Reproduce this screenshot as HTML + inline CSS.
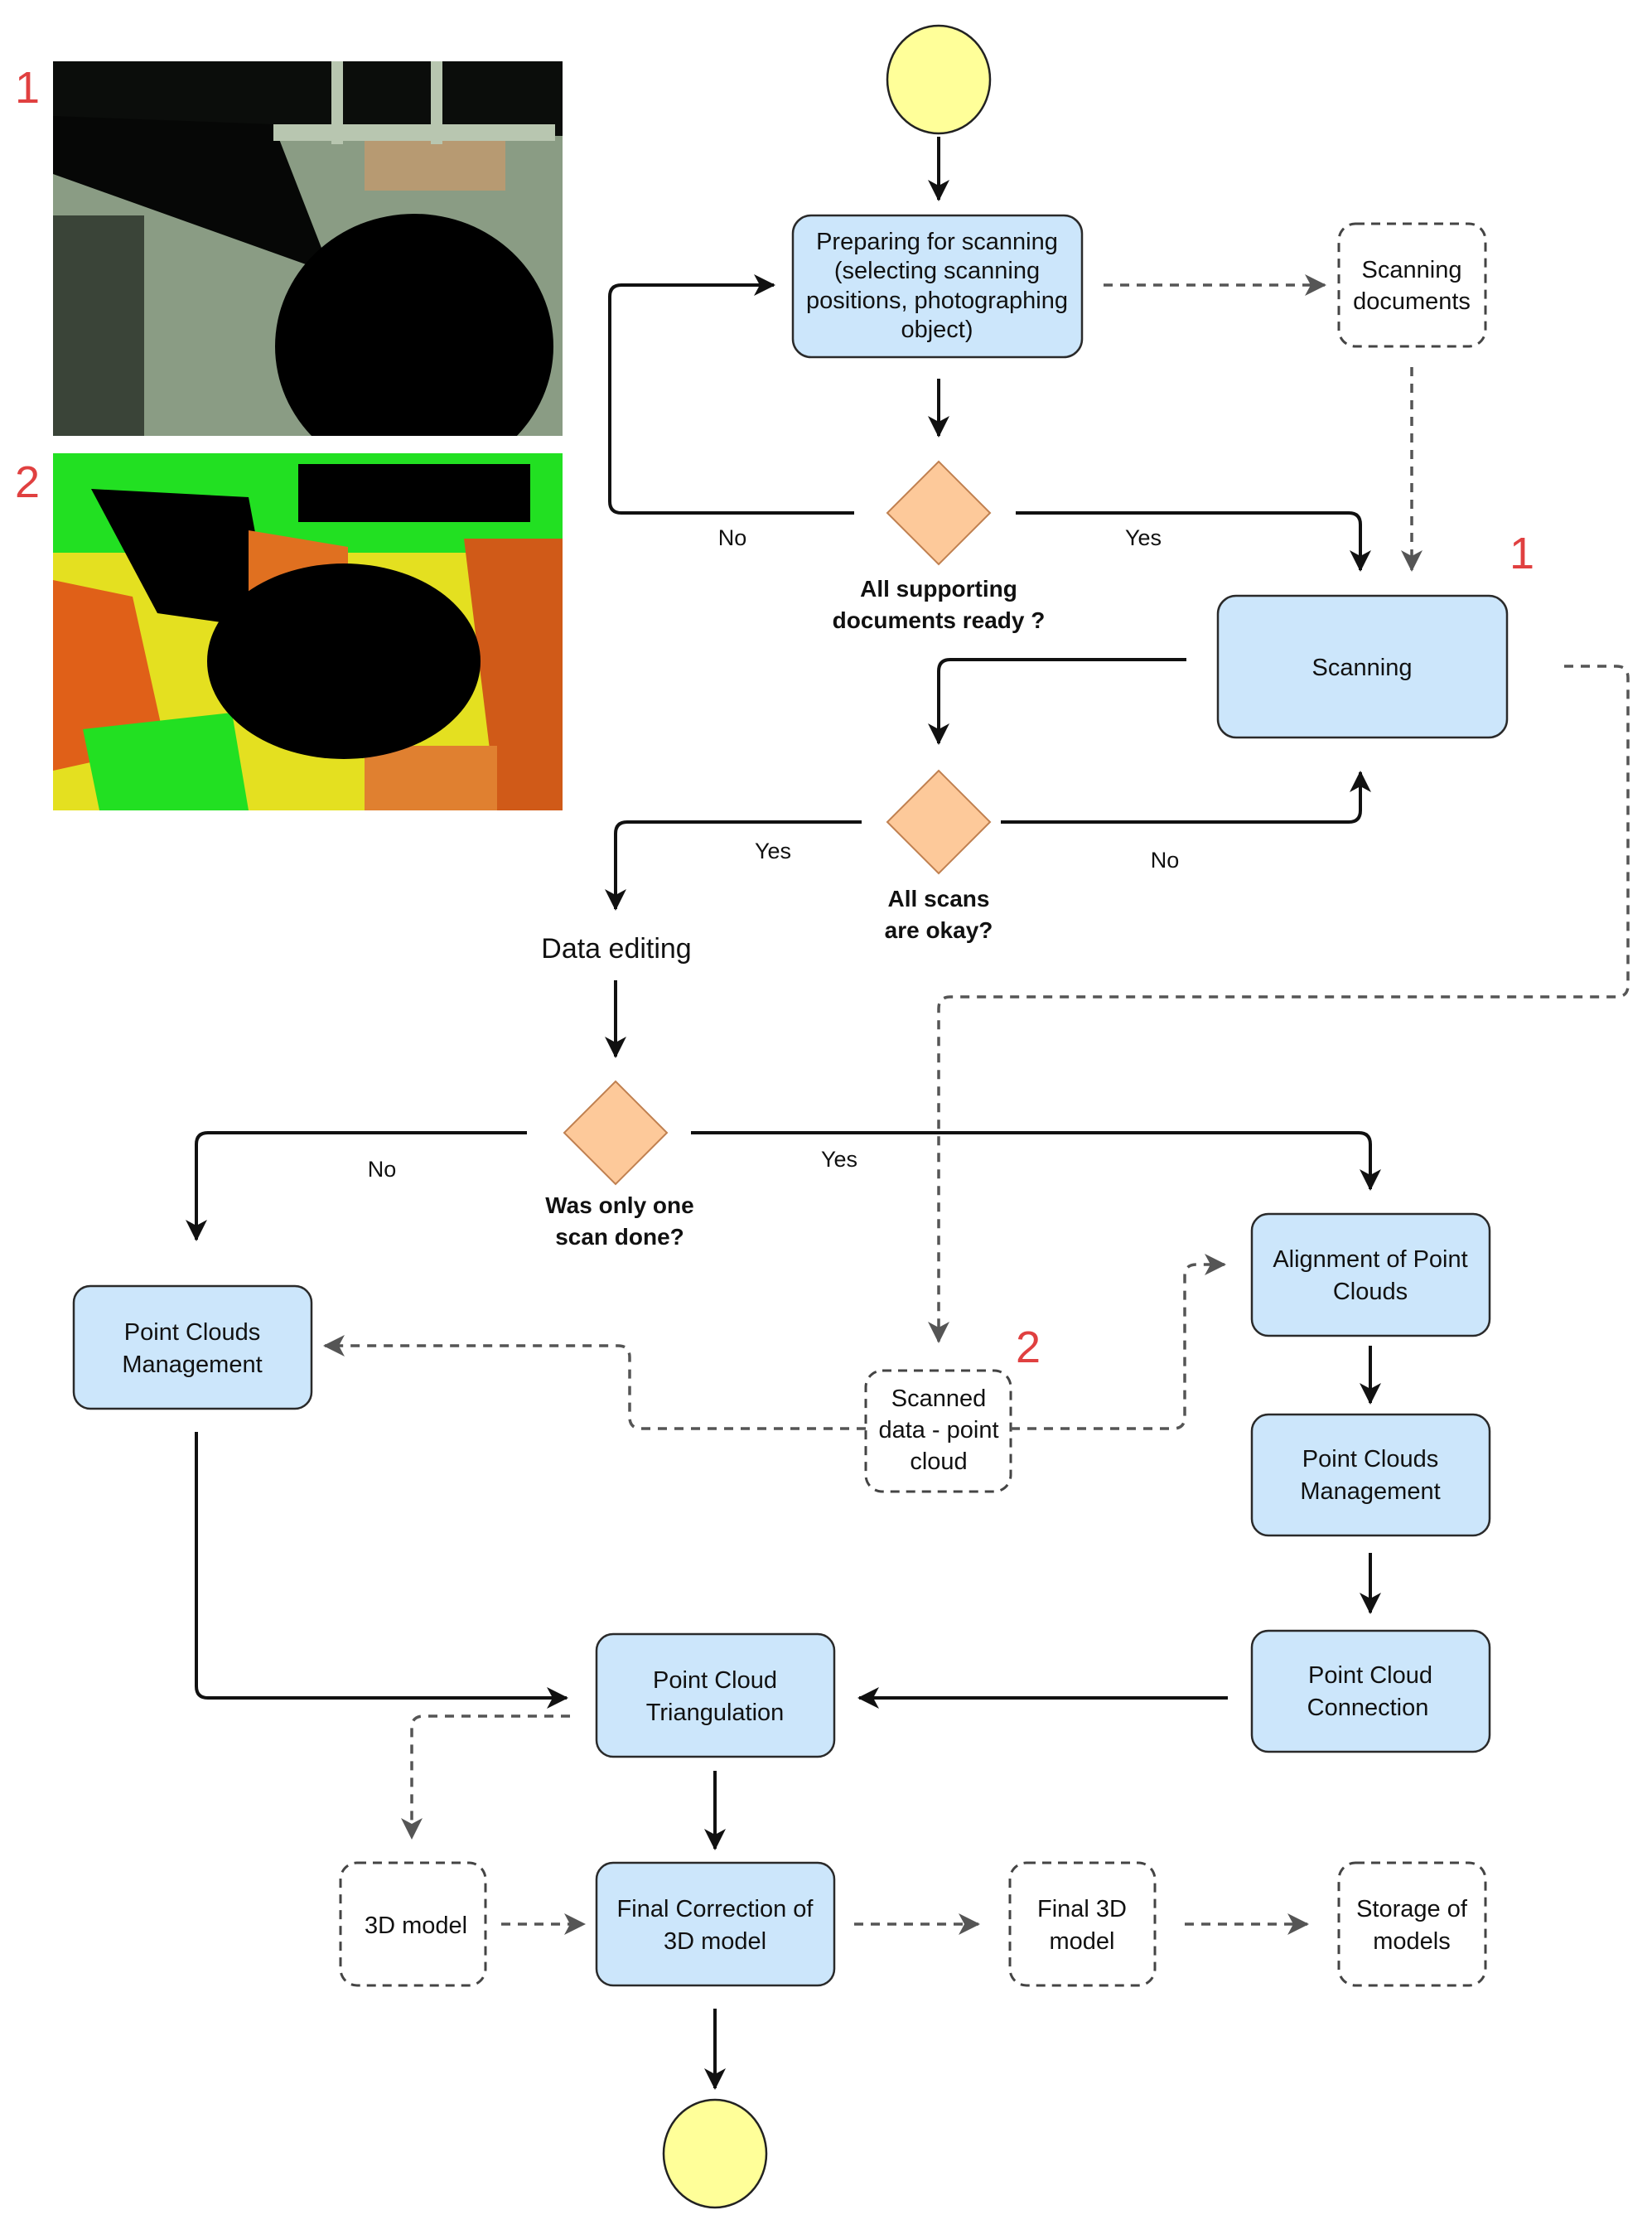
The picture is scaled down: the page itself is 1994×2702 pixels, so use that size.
<!DOCTYPE html>
<html><head><meta charset="utf-8"><style>
html,body{margin:0;padding:0;background:#fff;}
svg{display:block;}
text{font-family:"Liberation Sans",Arial,sans-serif;fill:#111;}
.bx{fill:#cce6fb;stroke:#2a2a2a;stroke-width:2.5;}
.db{fill:#fff;stroke:#444;stroke-width:3;stroke-dasharray:11 8;}
.ln{fill:none;stroke:#111;stroke-width:4;}
.dl{fill:none;stroke:#555;stroke-width:3.5;stroke-dasharray:11 9;}
.t{font-size:29px;text-anchor:middle;}
.b{font-size:28px;font-weight:bold;text-anchor:middle;}
.r{font-size:54px;fill:#e04040;}
</style></head><body>
<svg width="1994" height="2702" viewBox="0 0 1994 2702" xmlns="http://www.w3.org/2000/svg">
<defs>
<marker id="a" viewBox="0 0 10 10" refX="9" refY="5" markerWidth="6" markerHeight="6" markerUnits="userSpaceOnUse" orient="auto" style="overflow:visible"><path d="M0,0 L10,5 L0,10 L3,5 z" fill="#111" transform="scale(2.6) translate(-6,-5) translate(6,5)"/></marker>
<marker id="A" markerWidth="28" markerHeight="26" refX="24" refY="13" orient="auto" markerUnits="userSpaceOnUse"><path d="M0,0 L26,13 L0,26 L7,13 z" fill="#111"/></marker>
<marker id="D" markerWidth="28" markerHeight="26" refX="24" refY="13" orient="auto" markerUnits="userSpaceOnUse"><path d="M0,0 L26,13 L0,26 L7,13 z" fill="#555"/></marker>
<clipPath id="c1"><rect x="64" y="74" width="615" height="452"/></clipPath>
<clipPath id="c2"><rect x="64" y="547" width="615" height="431"/></clipPath>
</defs>

<!-- photo 1 -->
<g clip-path="url(#c1)">
<rect x="64" y="74" width="615" height="452" fill="#8a9c84"/>
<rect x="64" y="74" width="615" height="90" fill="#0b0d0b"/>
<polygon points="64,140 330,150 400,330 64,210" fill="#060706"/>
<rect x="64" y="260" width="110" height="266" fill="#3a4438"/>
<rect x="440" y="170" width="170" height="60" fill="#b79a72"/>
<rect x="330" y="150" width="340" height="20" fill="#b8c6b0"/>
<rect x="400" y="74" width="14" height="100" fill="#b8c6b0"/>
<rect x="520" y="74" width="14" height="100" fill="#b8c6b0"/>
<ellipse cx="500" cy="418" rx="168" ry="160" fill="#000"/>
</g>
<!-- photo 2 -->
<g clip-path="url(#c2)">
<rect x="64" y="547" width="615" height="431" fill="#e4e020"/>
<rect x="64" y="547" width="615" height="120" fill="#22e022"/>
<polygon points="110,590 300,600 330,760 190,740" fill="#000"/>
<rect x="360" y="560" width="280" height="70" fill="#000"/>
<polygon points="64,700 160,720 200,900 64,930" fill="#e06018"/>
<polygon points="100,880 280,860 300,978 120,978" fill="#22e022"/>
<polygon points="300,640 420,660 420,760 300,760" fill="#e07020"/>
<polygon points="560,650 679,650 679,978 600,978" fill="#d05a18"/>
<polygon points="440,900 600,900 600,978 440,978" fill="#e08030"/>
<ellipse cx="415" cy="798" rx="165" ry="118" fill="#000"/>
</g>
<text class="r" x="18" y="124">1</text>
<text class="r" x="18" y="600">2</text>

<!-- start circle -->
<ellipse cx="1133" cy="96" rx="62" ry="65" fill="#ffff99" stroke="#222" stroke-width="2.5"/>
<line class="ln" x1="1133" y1="165" x2="1133" y2="241" marker-end="url(#A)"/>

<rect class="bx" x="957" y="260" width="349" height="171" rx="22"/>
<text class="t" x="1131" y="301">Preparing for scanning</text>
<text class="t" x="1131" y="336">(selecting scanning</text>
<text class="t" x="1131" y="372">positions, photographing</text>
<text class="t" x="1131" y="407">object)</text>

<line class="dl" x1="1332" y1="344" x2="1599" y2="344" marker-end="url(#D)"/>
<rect class="db" x="1616" y="270" width="177" height="148" rx="20"/>
<text class="t" x="1704" y="335">Scanning</text>
<text class="t" x="1704" y="373">documents</text>
<line class="dl" x1="1704" y1="443" x2="1704" y2="688" marker-end="url(#D)"/>

<line class="ln" x1="1133" y1="457" x2="1133" y2="526" marker-end="url(#A)"/>
<polygon points="1133,557 1195,619 1133,681 1071,619" fill="#fdc99a" stroke="#c08050" stroke-width="2"/>
<path class="ln" d="M1031,619 H750 Q736,619 736,605 V358 Q736,344 750,344 H934" marker-end="url(#A)"/>
<path class="ln" d="M1226,619 H1628 Q1642,619 1642,633 V688" marker-end="url(#A)"/>
<text class="t" x="884" y="658" style="font-size:27px">No</text>
<text class="t" x="1380" y="658" style="font-size:27px">Yes</text>
<text class="b" x="1133" y="720">All supporting</text>
<text class="b" x="1133" y="758">documents ready ?</text>
<text class="r" x="1822" y="686">1</text>

<rect class="bx" x="1470" y="719" width="349" height="171" rx="22"/>
<text class="t" x="1644" y="815">Scanning</text>

<path class="ln" d="M1432,796 H1147 Q1133,796 1133,810 V897" marker-end="url(#A)"/>
<path class="dl" d="M1888,804 H1951 Q1965,804 1965,818 V1189 Q1965,1203 1951,1203 H1147 Q1133,1203 1133,1217 V1619" marker-end="url(#D)"/>

<polygon points="1133,930 1195,992 1133,1054 1071,992" fill="#fdc99a" stroke="#c08050" stroke-width="2"/>
<path class="ln" d="M1040,992 H757 Q743,992 743,1006 V1097" marker-end="url(#A)"/>
<path class="ln" d="M1208,992 H1628 Q1642,992 1642,978 V932" marker-end="url(#A)"/>
<text class="t" x="933" y="1036" style="font-size:27px">Yes</text>
<text class="t" x="1406" y="1047" style="font-size:27px">No</text>
<text class="b" x="1133" y="1094">All scans</text>
<text class="b" x="1133" y="1132">are okay?</text>
<text class="t" x="744" y="1156" style="font-size:34px">Data editing</text>
<line class="ln" x1="743" y1="1183" x2="743" y2="1275" marker-end="url(#A)"/>

<polygon points="743,1305 805,1367 743,1429 681,1367" fill="#fdc99a" stroke="#c08050" stroke-width="2"/>
<path class="ln" d="M636,1367 H251 Q237,1367 237,1381 V1496" marker-end="url(#A)"/>
<path class="ln" d="M834,1367 H1640 Q1654,1367 1654,1381 V1435" marker-end="url(#A)"/>
<text class="t" x="461" y="1420" style="font-size:27px">No</text>
<text class="t" x="1013" y="1408" style="font-size:27px">Yes</text>
<text class="b" x="748" y="1464">Was only one</text>
<text class="b" x="748" y="1502">scan done?</text>

<rect class="bx" x="89" y="1552" width="287" height="148" rx="20"/>
<text class="t" x="232" y="1617">Point Clouds</text>
<text class="t" x="232" y="1656">Management</text>

<path class="dl" d="M1045,1724 H774 Q760,1724 760,1710 V1638 Q760,1624 746,1624 H392" marker-end="url(#D)"/>
<rect class="db" x="1045" y="1654" width="175" height="146" rx="20"/>
<text class="t" x="1133" y="1697">Scanned</text>
<text class="t" x="1133" y="1735">data - point</text>
<text class="t" x="1133" y="1773">cloud</text>
<text class="r" x="1226" y="1644">2</text>
<path class="dl" d="M1220,1724 H1416 Q1430,1724 1430,1710 V1540 Q1430,1526 1444,1526 H1478" marker-end="url(#D)"/>

<rect class="bx" x="1511" y="1465" width="287" height="147" rx="20"/>
<text class="t" x="1654" y="1529">Alignment of Point</text>
<text class="t" x="1654" y="1568">Clouds</text>
<line class="ln" x1="1654" y1="1624" x2="1654" y2="1693" marker-end="url(#A)"/>
<rect class="bx" x="1511" y="1707" width="287" height="146" rx="20"/>
<text class="t" x="1654" y="1770">Point Clouds</text>
<text class="t" x="1654" y="1809">Management</text>
<line class="ln" x1="1654" y1="1874" x2="1654" y2="1946" marker-end="url(#A)"/>
<rect class="bx" x="1511" y="1968" width="287" height="146" rx="20"/>
<text class="t" x="1654" y="2031">Point Cloud</text>
<text class="t" x="1651" y="2070">Connection</text>

<line class="ln" x1="1482" y1="2049" x2="1037" y2="2049" marker-end="url(#A)"/>
<path class="ln" d="M237,1728 V2035 Q237,2049 251,2049 H684" marker-end="url(#A)"/>

<rect class="bx" x="720" y="1972" width="287" height="148" rx="20"/>
<text class="t" x="863" y="2037">Point Cloud</text>
<text class="t" x="863" y="2076">Triangulation</text>
<path class="dl" d="M688,2071 H511 Q497,2071 497,2085 V2218" marker-end="url(#D)"/>
<line class="ln" x1="863" y1="2137" x2="863" y2="2231" marker-end="url(#A)"/>

<rect class="db" x="411" y="2248" width="175" height="148" rx="20"/>
<text class="t" x="502" y="2333">3D model</text>
<line class="dl" x1="605" y1="2322" x2="705" y2="2322" marker-end="url(#D)"/>
<rect class="bx" x="720" y="2248" width="287" height="148" rx="20"/>
<text class="t" x="863" y="2313">Final Correction of</text>
<text class="t" x="863" y="2352">3D model</text>
<line class="dl" x1="1031" y1="2322" x2="1181" y2="2322" marker-end="url(#D)"/>
<rect class="db" x="1219" y="2248" width="175" height="148" rx="20"/>
<text class="t" x="1306" y="2313">Final 3D</text>
<text class="t" x="1306" y="2352">model</text>
<line class="dl" x1="1430" y1="2322" x2="1578" y2="2322" marker-end="url(#D)"/>
<rect class="db" x="1616" y="2248" width="177" height="148" rx="20"/>
<text class="t" x="1704" y="2313">Storage of</text>
<text class="t" x="1704" y="2352">models</text>

<line class="ln" x1="863" y1="2424" x2="863" y2="2520" marker-end="url(#A)"/>
<ellipse cx="863" cy="2599" rx="62" ry="65" fill="#ffff99" stroke="#222" stroke-width="2.5"/>
</svg>
</body></html>
